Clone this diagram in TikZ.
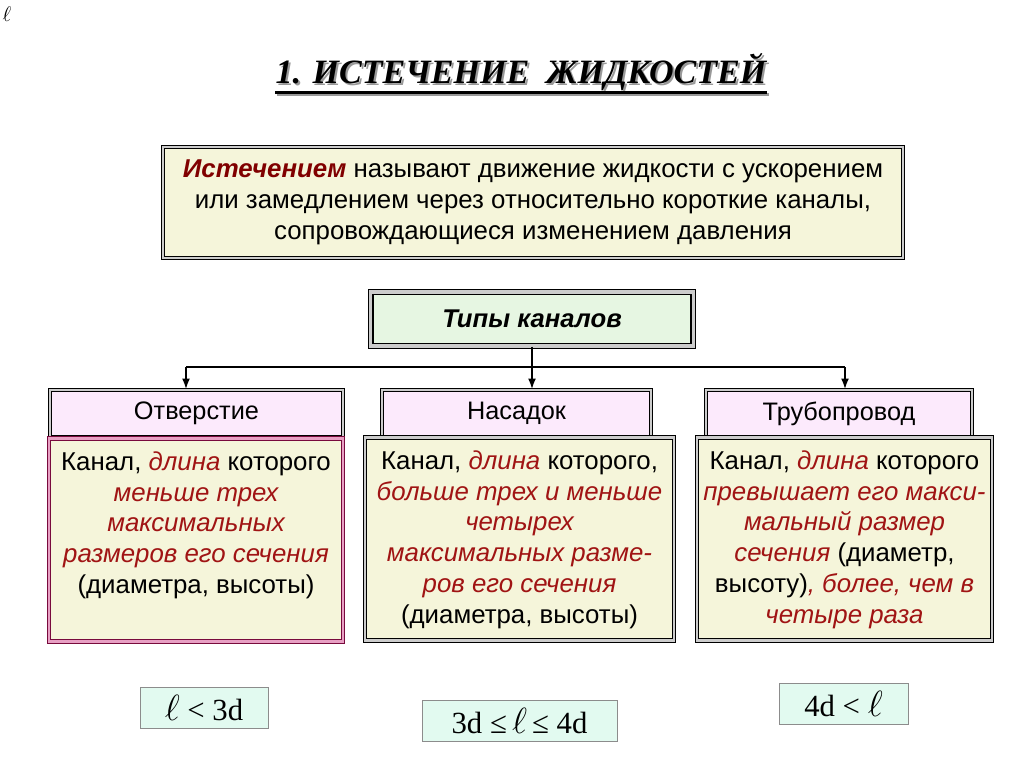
\documentclass[tikz,border=0pt]{standalone}
\usepackage{fontspec}
\setmainfont{Liberation Sans}
\newfontfamily\serifrm{Liberation Serif}
\usepackage{xcolor}
\usetikzlibrary{arrows.meta, positioning, calc}

\definecolor{defbg}{RGB}{245,245,218}
\definecolor{typbg}{RGB}{230,246,226}
\definecolor{headbg}{RGB}{252,234,252}
\definecolor{frmbg}{RGB}{226,250,240}
\definecolor{accent}{RGB}{160,20,20}
\definecolor{deepred}{RGB}{128,0,0}
\definecolor{plum}{RGB}{120,10,60}
\definecolor{rose}{RGB}{232,160,196}

\newcommand{\hl}[1]{\textcolor{accent}{\itshape #1}}
\newcommand{\ellbig}{{\fontsize{22}{22}\selectfont$\ell$}}

\tikzset{
  frame/.style={
    draw=black, line width=0.55pt,
    double=black!20, double distance=1.4pt
  },
  ttl/.style={inner sep=0pt, font=\serifrm\fontsize{19.4}{24}\selectfont\bfseries\itshape},
  uline/.style={line width=1.6pt},
  dfn/.style={
    frame, fill=defbg, align=center,
    minimum width=14.8cm, minimum height=2.22cm,
    font=\fontsize{14.7}{17.6}\selectfont
  },
  typ/.style={
    frame, line width=0.8pt, double distance=1.8pt, fill=typbg,
    minimum width=6.46cm, minimum height=1.08cm,
    font=\fontsize{14.6}{17}\selectfont\bfseries\itshape
  },
  head/.style={frame, fill=headbg, minimum height=0.94cm, font=\fontsize{14.4}{17}\selectfont},
  body/.style={frame, fill=defbg, minimum height=4.06cm},
  bodyr/.style={body, draw=plum, double=rose},
  txt/.style={align=center, inner sep=0pt, font=\fontsize{14.7}{17.6}\selectfont},
  frm/.style={
    draw=black!45, fill=frmbg, minimum height=0.82cm,
    font=\serifrm\fontsize{17.5}{20}\selectfont
  },
  sig/.style={-{Latex[length=2.2mm,width=1.6mm]}, line width=1.2pt},
  line/.style={line width=1.2pt}
}

\begin{document}
\begin{tikzpicture}[x=0.02cm, y=-0.02cm]

  \useasboundingbox (0,0) rectangle (1024,767);

  \node[font=\fontsize{12}{12}\selectfont] (ellmark) at (7,14) {$\ell$};

  % title with its shadow
  \node[ttl, text=black!40] (title-sh) at (523,74) {1. ИСТЕЧЕНИЕ\ \ ЖИДКОСТЕЙ};
  \node[ttl] (title) at (521,72) {1. ИСТЕЧЕНИЕ\ \ ЖИДКОСТЕЙ};
  \draw[uline, black!40] ([shift={(2,11)}]title.base west) -- ([shift={(2,11)}]title.base east);
  \draw[uline] ([shift={(0,9)}]title.base west) -- ([shift={(0,9)}]title.base east);

  \node[dfn] (dfn) at (533,202.5)
    {\textcolor{deepred}{\bfseries\itshape Истечением} называют движение жидкости с ускорением\\
     или замедлением через относительно короткие каналы,\\
     сопровождающиеся изменением давления};

  \node[typ] (typ) at (532,319) {Типы каналов};

  % headers
  \node[head, minimum width=5.86cm] (h1) at (196.5,413.5) {Отверстие};
  \node[head, minimum width=5.38cm] (h2) at (516.5,413.5) {Насадок};
  \node[head, minimum width=5.32cm] (h3) at (839,413.5)   {Трубопровод};

  % bodies
  \node[bodyr, minimum width=5.88cm] (b1) at (196,540)   {};
  \node[body,  minimum width=6.18cm] (b2) at (519.5,539) {};
  \node[body,  minimum width=5.90cm] (b3) at (844.5,539) {};

  \node[txt, below=0.26cm of b1.north] (t1)
    {Канал, \hl{длина} которого\\
     \hl{меньше трех}\\
     \hl{максимальных}\\
     \hl{размеров его сечения}\\
     (диаметра, высоты)};
  \node[txt, below=0.26cm of b2.north] (t2)
    {Канал, \hl{длина} которого,\\
     \hl{больше трех и меньше}\\
     \hl{четырех}\\
     \hl{максимальных разме-}\\
     \hl{ров его сечения}\\
     (диаметра, высоты)};
  \node[txt, below=0.26cm of b3.north] (t3)
    {Канал, \hl{длина} которого\\
     \hl{превышает его макси-}\\
     \hl{мальный размер}\\
     \hl{сечения} (диаметр,\\
     высоту)\hl{, более, чем в}\\
     \hl{четыре раза}};

  % connectors
  \coordinate (busL) at (186,367);
  \coordinate (busR) at (845,367);
  \draw[line] (busL) -- (busR);
  \draw[sig] (typ.south) -- (typ.south |- h2.north);
  \draw[sig] (busL) -- (busL |- h1.north);
  \draw[sig] (busR) -- (busR |- h3.north);

  % length conditions
  \node[frm, minimum width=2.56cm] (f1) at (204,707.5) {\ellbig\ < 3d};
  \node[frm, minimum width=3.90cm] (f2) at (519.5,720.5) {3d ≤\,\ellbig\,≤ 4d};
  \node[frm, minimum width=2.58cm] (f3) at (843.5,703.5) {4d < \ellbig};

\end{tikzpicture}
\end{document}
